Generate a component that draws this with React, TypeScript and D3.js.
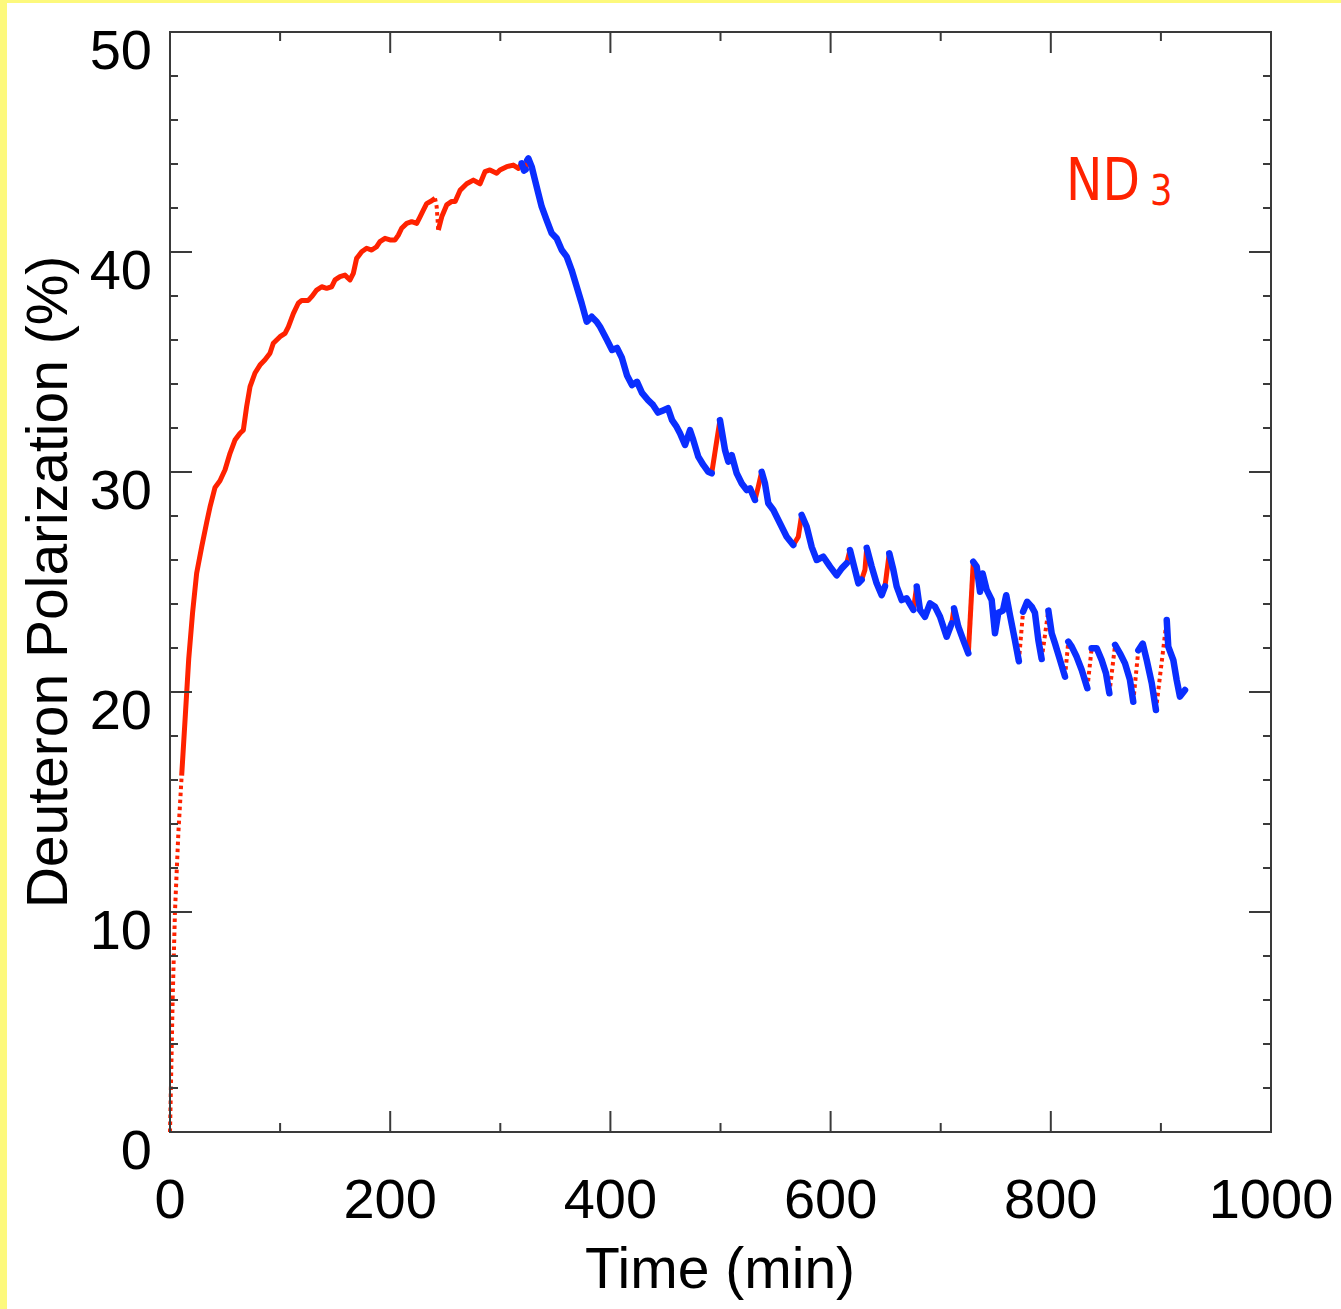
import React from "react";
import * as d3 from "d3";

// ---- data ----
const timeMin: number[] = [
  0, 1.2, 2.4, 4.5, 7.6, 10.6, 14, 17, 20.5, 24.2, 28.8, 33.3, 36.3, 40.9, 45.4, 50, 54.5, 59, 63.6, 66.6,
  69.6, 72.7, 77.2, 81.7, 86.3, 90.8, 93.8, 99.9, 104.5, 107.5, 112, 116.5, 119.6, 125.6, 128.7, 133.2,
  137.8, 142.3, 146.8, 149.9, 154.4, 158.9, 163.5, 166.5, 169.5, 174.1, 178.6, 183.2, 187.7, 190.7, 195.3,
  199.8, 204.4, 207.4, 210.4, 215, 219.5, 224.1, 227.1, 230.1, 233.1, 237.7, 240.7, 242.2, 243.7, 246.8,
  251.3, 255.9, 259, 263.4, 269.5, 275.5, 281.6, 286.1, 290.6, 296.7, 299.7, 305.8, 311.8, 316.4, 319.4,
  321.5, 323, 324.5, 325.5,
  328.5, 331.5, 334.5, 337.6, 342.1, 346.7, 351.2, 355.8, 360.3, 364.8, 369.4, 373.9, 378.5, 383, 387.5,
  390.6, 396.9, 401.5, 406, 410.5, 415, 419.6, 424.2, 428.7, 434.2, 438.7, 443.2, 447.8, 452.3, 456,
  459.6, 463.2, 467.8, 472.3, 475.3, 479.8, 484.4, 488.9, 492, 499.5, 504.1, 507.1, 510.2, 514.7, 519.3,
  523.8, 526.8, 531.3, 534.3, 537.4, 540.4, 543.4, 548, 554, 560.1, 566.1, 570.7, 573.7, 578.3, 582.8,
  587.4, 593.4, 599.5, 605.5, 610.1, 614.6, 617.6, 620.6, 625.2, 628.2, 631.2, 632.8, 637.3, 641.8, 646.4,
  649.4, 653.3, 657, 660, 664.6, 669.1, 675.2, 678.2, 681.2, 685.7, 690.3, 694.8, 699.4, 705.4, 710,
  712.1, 716, 720.5, 725.1, 729.6, 732.7, 735.7, 738.1, 741.8, 746.3, 749.3, 752.3, 756.5, 759.5, 762.9,
  767.4, 771, 774.8, 778.5, 782.6, 785.6, 788.7, 791.7, 797.8, 800.8, 803.8, 808.4, 812.9, 815.9, 819,
  823.5, 828.1, 833.2, 837.1, 841.7, 846.2, 850.1, 853.2, 858.4, 862.8, 867.4, 871.9, 874.9, 879.5, 883.5,
  887.1, 891.7, 895.5, 905.3, 906.7, 911.3, 914.3, 917.3, 921.9,
];

const polarization: number[] = [
  0, 2.95, 6.0, 10.0, 13.6, 16.2, 19.0, 21.5, 23.6, 25.4, 26.6, 27.7, 28.4, 29.3, 29.6, 30.1, 30.85, 31.45, 31.76, 31.9,
  32.97, 33.88, 34.5, 34.86, 35.1, 35.4, 35.85, 36.15, 36.3, 36.6, 37.2, 37.67, 37.8, 37.8, 37.97, 38.27,
  38.42, 38.35, 38.42, 38.73, 38.88, 38.95, 38.73, 39.03, 39.71, 40.01, 40.17, 40.09, 40.24, 40.47, 40.62,
  40.55, 40.55, 40.77, 41.08, 41.3, 41.38, 41.3, 41.6, 41.9, 42.2, 42.33, 42.44, 42.06, 41.0, 41.6,
  42.14, 42.3, 42.3, 42.8, 43.1, 43.27, 43.1, 43.65, 43.73, 43.58, 43.73, 43.88, 43.95, 43.8, 44.03,
  43.7, 43.75, 44.18, 44.25,
  43.88, 43.27, 42.67, 42.06, 41.45, 40.85, 40.62, 40.09, 39.79, 39.18, 38.42, 37.67, 36.83, 37.06, 36.83,
  36.6, 36.0, 35.55, 35.64, 35.18, 34.4, 33.95, 34.1, 33.6, 33.27, 33.05, 32.7, 32.8, 32.9, 32.36,
  32.1, 31.76, 31.23, 31.9, 31.45, 30.7, 30.32, 30.01, 29.94, 32.36, 31.0, 30.47, 30.77, 29.94, 29.48,
  29.18, 29.26, 28.73, 29.33, 30.01, 29.48, 28.58, 28.27, 27.67, 27.06, 26.68, 27.06, 28.05, 27.51, 26.6,
  26.0, 26.15, 25.7, 25.3, 25.62, 25.85, 26.45, 25.85, 24.94, 25.1, 25.55, 26.55, 25.7, 24.94, 24.4,
  24.8, 26.3, 25.55, 24.8, 24.18, 24.26, 23.73, 24.8, 23.73, 23.42, 24.03, 23.88, 23.42, 22.51, 23.12,
  23.8, 22.97, 22.36, 21.76, 25.92, 25.7, 24.56, 25.39, 24.64, 24.18, 22.67, 23.6, 23.7, 24.4, 23.5,
  22.36, 21.4, 23.65, 24.1, 23.88, 23.6, 22.36, 21.5, 23.7, 22.67, 22.21, 21.45, 20.7, 22.29, 22.06,
  21.6, 21.0, 20.17, 21.99, 21.99, 21.45, 20.85, 19.94, 22.14, 21.76, 21.3, 20.55, 19.56, 21.9, 22.2,
  21.45, 20.4, 19.18, 23.27, 22.06, 21.45, 20.55, 19.79, 20.09,
];

// mode of the segment that starts at each point:
// d = microwaves on, sparse (dotted red); r = microwaves on (red); b = decay (blue)
const segmentMode: string =
  "dddddrrrrrrrrrrrrrrr" +
  "rrrrrrrrrrrrrrrr" +
  "rrrrrrrrrrrrrrr" +
  "rrrrrrrrrrrddrr" +
  "rrrrrrrrrrrrrrb" +
  "brbb" +
  "bbbbbbbbbbbbbbb" +
  "bbbbbbbbbbbbbbb" +
  "bbbbbbbbrbbbbbb" +
  "bbrrbbbbbbrrbbb" +
  "bbbbbrbbbrrbbbb" +
  "rbbbbbrbbbbbbbr" +
  "bbbrbbbbbbbbbbb" +
  "bdbbbbbdbbbbdbb" +
  "bbdbbbbdbbbbdbb" +
  "bbdbbbbbb";

const xTickValues: number[] = [0, 200, 400, 600, 800, 1000];
const xTickLabels: string[] = ["0", "200", "400", "600", "800", "1000"];
const yTickValues: number[] = [0, 10, 20, 30, 40, 50];
const yTickLabels: string[] = ["0", "10", "20", "30", "40", "50"];
const xTitle = "Time (min)";
const yTitle = "Deuteron Polarization (%)";

const W = 1341;
const H = 1309;
const L = 170, R = 1271, T = 32, B = 1132;
const RED = "#ff2200";
const BLUE = "#0a2eff";
const AXIS = "#3a3a3a";
const FONT = "'Liberation Sans', Arial, Helvetica, sans-serif";

export default function App() {
  const x = d3.scaleLinear().domain([0, 1000]).range([L, R]);
  const y = d3.scaleLinear().domain([0, 50]).range([B, T]);
  const line = d3.line<[number, number]>().x((d) => x(d[0])).y((d) => y(d[1]));

  // group consecutive segments of the same mode into runs
  const runs: { mode: string; pts: [number, number][] }[] = [];
  for (let i = 0; i < timeMin.length - 1; i++) {
    const m = segmentMode[i] || "b";
    const a: [number, number] = [timeMin[i], polarization[i]];
    const b: [number, number] = [timeMin[i + 1], polarization[i + 1]];
    const last = runs[runs.length - 1];
    if (last && last.mode === m) last.pts.push(b);
    else runs.push({ mode: m, pts: [a, b] });
  }

  const xMinor = d3.range(0, 1001, 100).filter((v) => !xTickValues.includes(v));
  const yMinor = d3.range(0, 51, 2).filter((v) => !yTickValues.includes(v));

  return (
    <svg width={W} height={H} style={{ position: "absolute", left: 0, top: 0, background: "#fff" }}>
      <rect x={0} y={0} width={W} height={H} fill="#fff" />
      <rect x={0} y={0} width={7} height={H} fill="#fdf97c" />
      <rect x={0} y={0} width={W} height={3} fill="#fdf97c" />

      {/* data */}
      {runs.filter((r) => r.mode !== "b").map((r, i) => (
        <path
          key={"r" + i}
          d={line(r.pts) || ""}
          fill="none"
          stroke={RED}
          strokeWidth={r.mode === "d" ? 4 : 5}
          strokeDasharray={r.mode === "d" ? "3.5 3.5" : undefined}
          strokeLinejoin="round"
        />
      ))}
      {runs.filter((r) => r.mode === "b").map((r, i) => (
        <path
          key={"b" + i}
          d={line(r.pts) || ""}
          fill="none"
          stroke={BLUE}
          strokeWidth={6.5}
          strokeLinejoin="round"
          strokeLinecap="round"
        />
      ))}

      {/* frame */}
      <rect x={L} y={T} width={R - L} height={B - T} fill="none" stroke={AXIS} strokeWidth={2} />
      {xTickValues.map((v) => (
        <g key={"xt" + v} stroke={AXIS} strokeWidth={2}>
          <line x1={x(v)} x2={x(v)} y1={B} y2={B - 21} />
          <line x1={x(v)} x2={x(v)} y1={T} y2={T + 21} />
        </g>
      ))}
      {xMinor.map((v) => (
        <g key={"xm" + v} stroke={AXIS} strokeWidth={2}>
          <line x1={x(v)} x2={x(v)} y1={B} y2={B - 9} />
          <line x1={x(v)} x2={x(v)} y1={T} y2={T + 9} />
        </g>
      ))}
      {yTickValues.map((v) => (
        <g key={"yt" + v} stroke={AXIS} strokeWidth={2}>
          <line x1={L} x2={L + 22} y1={y(v)} y2={y(v)} />
          <line x1={R} x2={R - 22} y1={y(v)} y2={y(v)} />
        </g>
      ))}
      {yMinor.map((v) => (
        <g key={"ym" + v} stroke={AXIS} strokeWidth={2}>
          <line x1={L} x2={L + 8} y1={y(v)} y2={y(v)} />
          <line x1={R} x2={R - 8} y1={y(v)} y2={y(v)} />
        </g>
      ))}

      {/* tick labels */}
      {xTickValues.map((v, i) => (
        <text key={"xl" + v} x={x(v)} y={1218} textAnchor="middle" fontFamily={FONT} fontSize={56} fill="#000">
          {xTickLabels[i]}
        </text>
      ))}
      {yTickValues.map((v, i) => (
        <text key={"yl" + v} x={152} y={y(v) + 37} textAnchor="end" fontFamily={FONT} fontSize={56} fill="#000">
          {yTickLabels[i]}
        </text>
      ))}

      {/* titles */}
      <text x={720} y={1288} textAnchor="middle" fontFamily={FONT} fontSize={57} fill="#000">
        {xTitle}
      </text>
      <text
        transform="translate(67,582) rotate(-90)"
        textAnchor="middle"
        fontFamily={FONT}
        fontSize={57}
        fill="#000"
      >
        {yTitle}
      </text>

      {/* annotation */}
      <g transform="translate(1066,200) scale(0.84,1)">
        <text x={0} y={0} fontFamily="'DejaVu Sans', sans-serif" fontSize={58} fill={RED}>
          ND
        </text>
        <text x={100} y={5} fontFamily="'DejaVu Sans', sans-serif" fontSize={42} fill={RED}>
          3
        </text>
      </g>
    </svg>
  );
}
